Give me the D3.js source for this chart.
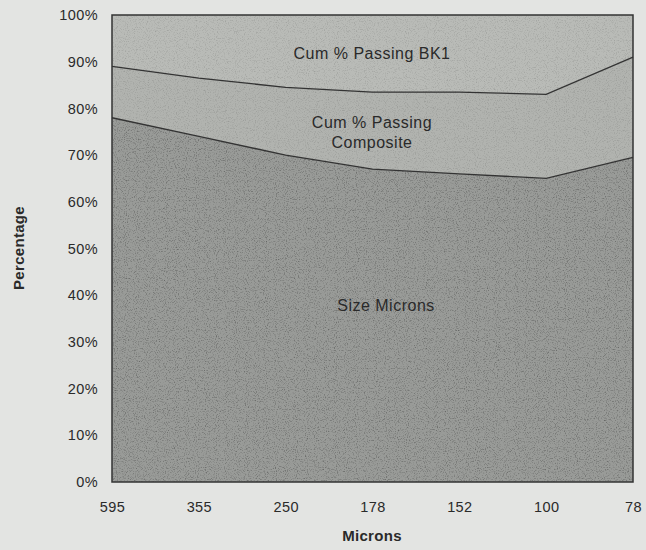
<!DOCTYPE html>
<html>
<head>
<meta charset="utf-8">
<script src="https://cdn.jsdelivr.net/npm/d3@7"></script>
<style>
  body { margin: 0; background: #e3e4e2; }
  #graf text { font-family: 'Liberation Sans', Arial, sans-serif; fill: #2a2a2a; }
  .ejes path, .ejes line { display: none; }
  .ejes text { font-size: 14.5px; letter-spacing: 0.4px; }
</style>
</head>
<body>
<div id="graf"></div>
<script>
// datos (porcentaje de cada capa)
const microns = ['595', '355', '250', '178', '152', '100', '78']
const sizeMicrons = [78, 74, 70, 67, 66, 65, 69.5]
const cumComposite = [11, 12.5, 14.5, 16.5, 17.5, 18, 21.5]
const cumBK1 = [11, 13.5, 15.5, 16.5, 16.5, 17, 9]
const yTicks = [0, 10, 20, 30, 40, 50, 60, 70, 80, 90, 100]

const anchoTotal = 646
const altoTotal = 550
const margin = { top: 15, bottom: 68, left: 112, right: 13 }
const ancho = anchoTotal - margin.left - margin.right
const alto = altoTotal - margin.top - margin.bottom

const svg = d3.select('#graf')
  .append('svg')
  .attr('width', anchoTotal)
  .attr('height', altoTotal)

// textura granulada tipo fotocopia
const defs = svg.append('defs')
const filtro = defs.append('filter').attr('id', 'grano')
  .attr('x', 0).attr('y', 0).attr('width', '100%').attr('height', '100%')
filtro.append('feTurbulence')
  .attr('type', 'fractalNoise')
  .attr('baseFrequency', 0.9)
  .attr('numOctaves', 2)
  .attr('seed', 3)
  .attr('result', 'ruido')
filtro.append('feColorMatrix')
  .attr('in', 'ruido')
  .attr('type', 'matrix')
  .attr('values', '0 0 0 0 0  0 0 0 0 0  0 0 0 0 0  0 0 0 1.8 -0.9')
  .attr('result', 'puntos')
filtro.append('feComposite').attr('in', 'puntos').attr('in2', 'SourceGraphic').attr('operator', 'in')

const g = svg.append('g')
  .attr('transform', `translate(${margin.left}, ${margin.top})`)

const x = d3.scalePoint().domain(microns).range([0, ancho])
const y = d3.scaleLinear().domain([0, 100]).range([alto, 0])

const tabla = microns.map((m, i) => ({
  micron: m, size: sizeMicrons[i], composite: cumComposite[i], bk1: cumBK1[i]
}))
const capas = d3.stack().keys(['size', 'composite', 'bk1'])(tabla)
const colores = { size: '#999b98', composite: '#b1b3af', bk1: '#b9bbb7' }
const grano = { size: 0.45, composite: 0.2, bk1: 0.2 }

const area = d3.area()
  .x(d => x(d.data.micron))
  .y0(d => y(d[0]))
  .y1(d => y(d[1]))

g.selectAll('path.capa')
  .data(capas)
  .enter()
  .append('path')
  .attr('class', 'capa')
  .attr('d', area)
  .attr('fill', d => colores[d.key])

// grano encima de cada area
g.selectAll('path.grano')
  .data(capas)
  .enter()
  .append('path')
  .attr('class', 'grano')
  .attr('d', area)
  .attr('fill', '#000')
  .attr('opacity', d => grano[d.key])
  .attr('filter', 'url(#grano)')

const linea = d3.line()
  .x(d => x(d.data.micron))
  .y(d => y(d[1]))

g.selectAll('path.borde')
  .data(capas.slice(0, 2))
  .enter()
  .append('path')
  .attr('class', 'borde')
  .attr('d', d => linea(d))
  .attr('fill', 'none')
  .attr('stroke', '#333')
  .attr('stroke-width', 1.3)

g.append('rect')
  .attr('width', ancho)
  .attr('height', alto)
  .attr('fill', 'none')
  .attr('stroke', '#333')
  .attr('stroke-width', 1.5)

// ejes
g.append('g')
  .attr('class', 'ejes')
  .attr('transform', `translate(0, ${alto})`)
  .call(d3.axisBottom(x).tickSize(0).tickPadding(20))

g.append('g')
  .attr('class', 'ejes')
  .call(d3.axisLeft(y).tickValues(yTicks).tickSize(0).tickPadding(14).tickFormat(d => d + '%'))

// titulos de ejes
svg.append('text')
  .attr('x', 372)
  .attr('y', 541)
  .attr('text-anchor', 'middle')
  .attr('font-size', 15)
  .attr('font-weight', 'bold')
  .attr('letter-spacing', 0.3)
  .text('Microns')

svg.append('text')
  .attr('transform', `translate(24, 248) rotate(-90)`)
  .attr('text-anchor', 'middle')
  .attr('font-size', 15)
  .attr('font-weight', 'bold')
  .attr('letter-spacing', 0.3)
  .text('Percentage')

// etiquetas de las capas
const etiquetas = [
  { txt: ['Cum % Passing BK1'], x: 372, y: 59 },
  { txt: ['Cum % Passing', 'Composite'], x: 372, y: 128 },
  { txt: ['Size Microns'], x: 386, y: 311 }
]
etiquetas.forEach(e => {
  const t = svg.append('text')
    .attr('text-anchor', 'middle')
    .attr('font-size', 16)
    .attr('letter-spacing', 0.5)
  e.txt.forEach((s, i) => {
    t.append('tspan').attr('x', e.x).attr('y', e.y + i * 20).text(s)
  })
})
</script>
</body>
</html>
